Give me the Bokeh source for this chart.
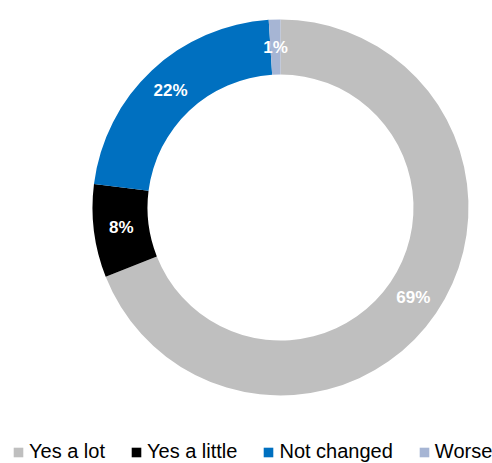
import numpy as np
from bokeh.plotting import figure
from bokeh.models import Range1d, ColumnDataSource, Legend, LegendItem
from bokeh.core.properties import value
from bokeh.embed import file_html
from bokeh.resources import INLINE

categories = ["Yes a lot", "Yes a little", "Not changed", "Worse"]
values = [69, 8, 22, 1]
labels = ["69%", "8%", "22%", "1%"]
colors = ["#BFBFBF", "#000000", "#0070C0", "#A6B5D4"]

W, H = 492, 463
cx, cy = 280, 463 - 207
r_out, r_in = 188, 133

p = figure(width=W, height=H, output_backend="svg", toolbar_location=None,
           x_range=Range1d(0, W), y_range=Range1d(0, H), min_border=0)
p.axis.visible = False
p.grid.visible = False
p.outline_line_color = None
p.background_fill_color = "white"
p.border_fill_color = "white"

vals = np.array(values, dtype=float)
frac = vals / vals.sum()
cum = np.concatenate([[0], np.cumsum(frac)])
start = np.pi / 2 - cum[:-1] * 2 * np.pi
end = np.pi / 2 - cum[1:] * 2 * np.pi
mid = (start + end) / 2
rm = (r_in + r_out) / 2

src = ColumnDataSource(dict(cat=categories, start=start, end=end, color=colors,
                            lx=cx + rm * np.cos(mid), ly=cy + rm * np.sin(mid), lab=labels))

renderers = []
for i in range(len(categories)):
    r = p.annular_wedge(x=cx, y=cy, inner_radius=r_in, outer_radius=r_out,
                        start_angle=start[i], end_angle=end[i], direction="clock",
                        fill_color=colors[i], line_color=None)
    renderers.append(r)

p.text(x="lx", y="ly", text="lab", source=src, text_color="white",
       text_font=value("Liberation Sans"), text_font_style="bold",
       text_font_size="17px", text_align="center", text_baseline="middle")

legend = Legend(items=[LegendItem(label=c, renderers=[r]) for c, r in zip(categories, renderers)],
                orientation="horizontal", location=(12, 0),
                label_text_font="Liberation Sans", label_text_font_size="20px",
                label_text_color="#000000", glyph_width=12, glyph_height=12,
                label_height=20, label_standoff=5, spacing=25, padding=0, margin=0,
                border_line_color=None, background_fill_alpha=0)
p.add_layout(legend, "center")

open("out.html", "w").write(file_html(p, INLINE))
